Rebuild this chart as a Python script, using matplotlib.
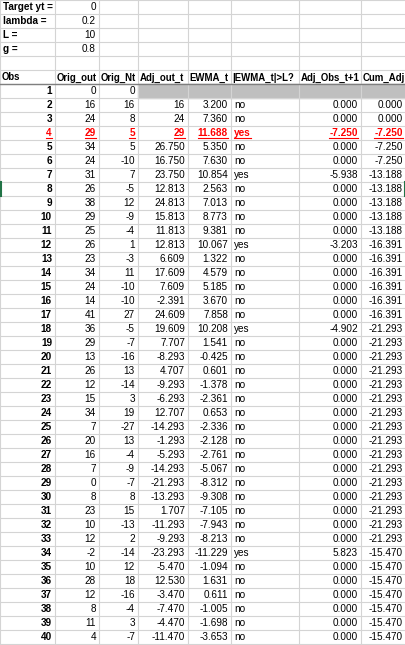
import matplotlib
matplotlib.use("Agg")
import matplotlib.pyplot as plt
from matplotlib.patches import Rectangle

params_labels = ["Target yt =", "lambda =", "L =", "g ="]
params_values = ["0", "0.2", "10", "0.8"]
headers = ["Obs", "Orig_out", "Orig_Nt", "Adj_out_t", "EWMA_t", "|EWMA_t|>L?", "Adj_Obs_t+1", "Cum_Adj"]
obs = list(range(1, 41))
orig_out = [0,16,24,29,34,24,31,26,38,29,25,26,23,34,24,14,41,36,29,13,26,12,15,34,7,20,16,7,0,8,23,10,12,-2,10,28,12,8,11,4]
orig_nt = [0,16,8,5,5,-10,7,-5,12,-9,-4,1,-3,11,-10,-10,27,-5,-7,-16,13,-14,3,19,-27,13,-4,-9,-7,8,15,-13,2,-14,12,18,-16,-4,3,-7]
adj_out = [None,"16","24","29","26.750","16.750","23.750","12.813","24.813","15.813","11.813","12.813","6.609","17.609","7.609","-2.391","24.609","19.609","7.707","-8.293","4.707","-9.293","-6.293","12.707","-14.293","-1.293","-5.293","-14.293","-21.293","-13.293","1.707","-11.293","-9.293","-23.293","-5.470","12.530","-3.470","-7.470","-4.470","-11.470"]
ewma = [None,3.200,7.360,11.688,5.350,7.630,10.854,2.563,7.013,8.773,9.381,10.067,1.322,4.579,5.185,3.670,7.858,10.208,1.541,-0.425,0.601,-1.378,-2.361,0.653,-2.336,-2.128,-2.761,-5.067,-8.312,-9.308,-7.105,-7.943,-8.213,-11.229,-1.094,1.631,0.611,-1.005,-1.698,-3.653]
flag = [None,"no","no","yes","no","no","yes","no","no","no","no","yes","no","no","no","no","no","yes","no","no","no","no","no","no","no","no","no","no","no","no","no","no","no","yes","no","no","no","no","no","no"]
adj_obs = [None,0.000,0.000,-7.250,0,0,-5.938,0,0,0,0,-3.203,0,0,0,0,0,-4.902,0,0,0,0,0,0,0,0,0,0,0,0,0,0,0,5.823,0,0,0,0,0,0]
cum_adj = [None,0.000,0.000,-7.250,-7.250,-7.250,-13.188,-13.188,-13.188,-13.188,-13.188,-16.391,-16.391,-16.391,-16.391,-16.391,-16.391,-21.293,-21.293,-21.293,-21.293,-21.293,-21.293,-21.293,-21.293,-21.293,-21.293,-21.293,-21.293,-21.293,-21.293,-21.293,-21.293,-15.470,-15.470,-15.470,-15.470,-15.470,-15.470,-15.470]

W, H = 406, 645
fig = plt.figure(figsize=(W/100, H/100), dpi=100)
ax = fig.add_axes([0, 0, 1, 1])
ax.set_xlim(0, W); ax.set_ylim(H, 0); ax.axis("off")

cols = [0, 55, 99, 138, 188, 231, 299, 361, 406]
RH = 14
nrows = 46
grid = "#d4d4d4"
FONT = "Liberation Sans"
FS = 7.2

y1 = 6 * RH
ax.add_patch(Rectangle((cols[3], y1), cols[8]-cols[3], RH, color="#bfbfbf", zorder=0))

for r in range(nrows + 1):
    ax.plot([0, W], [r*RH, r*RH], color=grid, lw=0.8, zorder=1)
for c in cols:
    ax.plot([c, c], [0, H], color=grid, lw=0.8, zorder=1)
ax.plot([0, W], [6*RH, 6*RH], color="#7f7f7f", lw=1.0, zorder=2)

def cell(ci, ri, text, align="right", bold=False, color="black", fs=FS, pad=3):
    y = ri*RH + RH/2 + 0.5
    if align == "right":
        x, ha = cols[ci+1] - pad, "right"
    else:
        x, ha = cols[ci] + pad, "left"
    return ax.text(x, y, text, ha=ha, va="center", fontsize=fs, family=FONT,
                   fontweight="bold" if bold else "normal", color=color, zorder=3)

for i, (l, v) in enumerate(zip(params_labels, params_values)):
    cell(0, i, l, align="left", bold=True)
    cell(1, i, v)
for ci, h in enumerate(headers):
    cell(ci, 5, h, align="left", bold=True, fs=6.9, pad=1.5)

texts_ul = []
for k in range(40):
    ri = 6 + k
    red = (obs[k] == 4)
    col = "#ff0000" if red else "black"
    row = [str(obs[k]), str(orig_out[k]), str(orig_nt[k]), adj_out[k],
           None if ewma[k] is None else f"{ewma[k]:.3f}", flag[k],
           None if adj_obs[k] is None else f"{adj_obs[k]:.3f}",
           None if cum_adj[k] is None else f"{cum_adj[k]:.3f}"]
    for ci, s in enumerate(row):
        if s is None:
            continue
        t = cell(ci, ri, s, align="left" if ci == 5 else "right",
                 bold=(ci == 0 or red), color=col)
        if red:
            texts_ul.append(t)

fig.canvas.draw()
rend = fig.canvas.get_renderer()
inv = ax.transData.inverted()
for t in texts_ul:
    bb = t.get_window_extent(rend)
    (x0, y0), (x1, _) = inv.transform([[bb.x0, bb.y0], [bb.x1, bb.y1]])
    ax.plot([x0, x1], [y0 - 0.5, y0 - 0.5], color="#ff0000", lw=0.8, zorder=3)

ax.plot([0.8, 0.8], [13*RH, 14*RH], color="#217346", lw=1.5)
ax.plot([W-0.8, W-0.8], [13*RH, 14*RH], color="#217346", lw=1.5)

fig.savefig("out.png", dpi=100)
